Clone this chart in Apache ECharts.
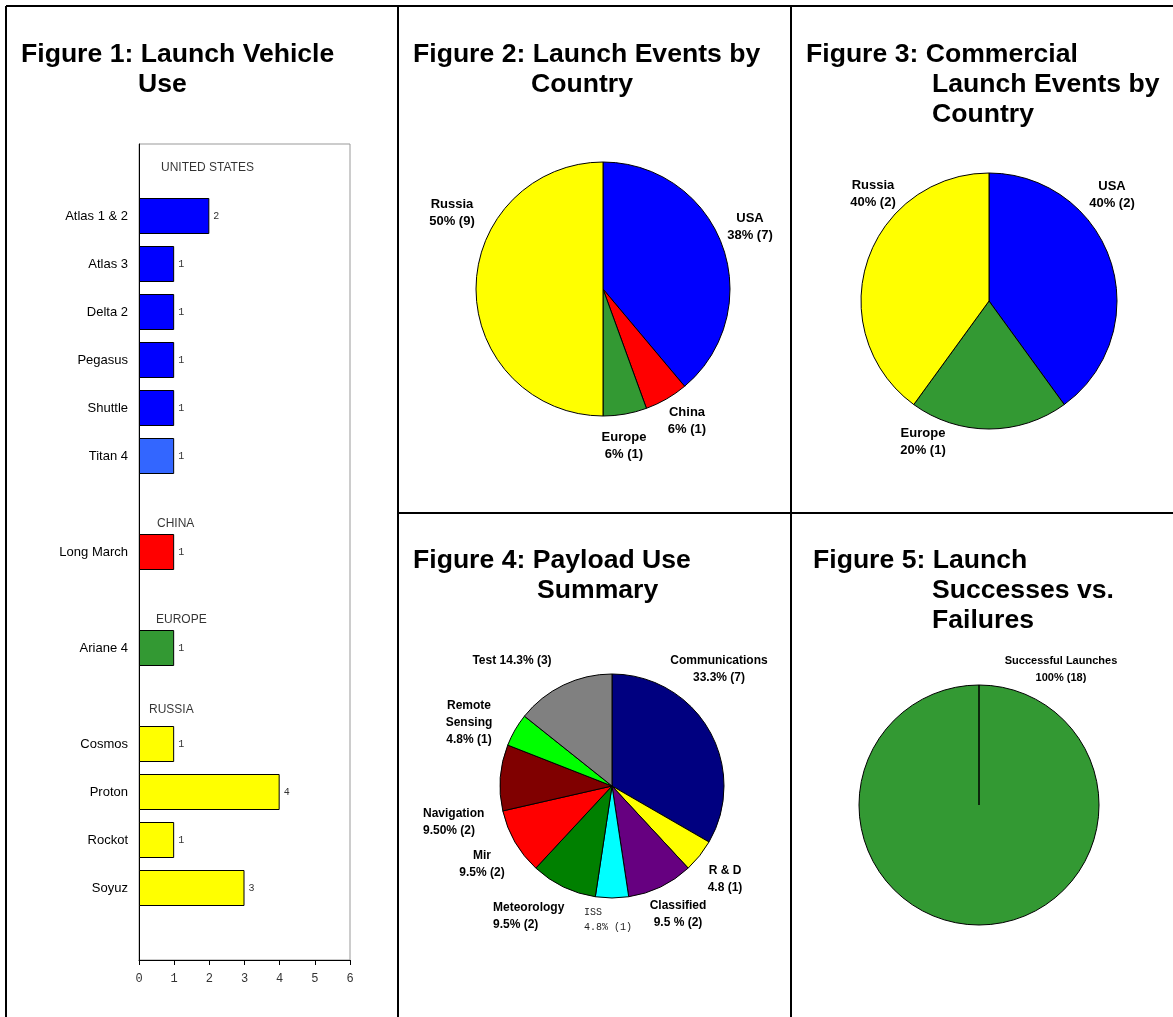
<!DOCTYPE html>
<html>
<head>
<meta charset="utf-8">
<title>Launch summary</title>
<script src="https://cdn.jsdelivr.net/npm/echarts@6/dist/echarts.min.js"></script>
<style>
  html, body { margin: 0; padding: 0; background: #fff; }
  #main { width: 1173px; height: 1017px; }
</style>
</head>
<body>
<div id="main"></div>
<script>
// Figure 1 - launch vehicles, grouped by country
var vehicleGroups = ['UNITED STATES', 'CHINA', 'EUROPE', 'RUSSIA'];
var usVehicles = ['Atlas 1 & 2', 'Atlas 3', 'Delta 2', 'Pegasus', 'Shuttle', 'Titan 4'];
var usCounts = [2, 1, 1, 1, 1, 1];
var chinaVehicles = ['Long March'];
var chinaCounts = [1];
var europeVehicles = ['Ariane 4'];
var europeCounts = [1];
var russiaVehicles = ['Cosmos', 'Proton', 'Rockot', 'Soyuz'];
var russiaCounts = [1, 4, 1, 3];
var vehicleTicks = [0, 1, 2, 3, 4, 5, 6];

// Figure 2 - launch events by country
var launchCountries = ['USA', 'China', 'Europe', 'Russia'];
var launchEvents = [7, 1, 1, 9];
var launchPct = ['38%', '6%', '6%', '50%'];

// Figure 3 - commercial launch events by country
var commCountries = ['USA', 'Europe', 'Russia'];
var commEvents = [2, 1, 2];
var commPct = ['40%', '20%', '40%'];

// Figure 4 - payload use
var payloadUses = ['Communications', 'R & D', 'Classified', 'ISS', 'Meteorology', 'Mir', 'Navigation', 'Remote Sensing', 'Test'];
var payloadCounts = [7, 1, 2, 1, 2, 2, 2, 1, 3];
var payloadPct = ['33.3%', '4.8', '9.5 %', '4.8%', '9.5%', '9.5%', '9.50%', '4.8%', '14.3%'];

// Figure 5 - successes vs failures
var outcomes = ['Successful Launches', 'Failures'];
var outcomeCounts = [18, 0];
var outcomePct = ['100%', '0%'];

var groupColors = {'UNITED STATES': '#0000ff', 'CHINA': '#ff0000', 'EUROPE': '#339933', 'RUSSIA': '#ffff00'};
var launchColors = ['#0000ff', '#ff0000', '#339933', '#ffff00'];
var commColors = ['#0000ff', '#339933', '#ffff00'];
var payloadColors = ['#000080', '#ffff00', '#660080', '#00ffff', '#008000', '#ff0000', '#800000', '#00ff00', '#808080'];
var outcomeColors = ['#339933', '#339933'];

var FONT = '"Liberation Sans", Arial, sans-serif';
var MONO = '"Liberation Mono", "Courier New", monospace';

function buildVehicleData() {
    var lists = [[usVehicles, usCounts], [chinaVehicles, chinaCounts], [europeVehicles, europeCounts], [russiaVehicles, russiaCounts]];
    var cats = [], bars = [];
    for (var g = 0; g < vehicleGroups.length; g++) {
        cats.push(vehicleGroups[g]);
        bars.push('-');
        var names = lists[g][0], counts = lists[g][1];
        for (var i = 0; i < names.length; i++) {
            var col = groupColors[vehicleGroups[g]];
            if (names[i] == 'Titan 4') col = '#3366ff';
            cats.push(names[i]);
            bars.push({value: counts[i], itemStyle: {color: col}});
        }
    }
    cats.push(' ');
    bars.push('-');
    return {cats: cats, bars: bars};
}

function pieData(names, values, colors, pct, fmt) {
    var out = [];
    for (var i = 0; i < names.length; i++) {
        out.push({
            name: names[i],
            value: values[i],
            pct: pct[i],
            itemStyle: {color: colors[i]},
            label: fmt ? fmt(names[i], i) : {}
        });
    }
    return out;
}

function spotLayout(cx, cy, spots) {
    return function (p) {
        var s = spots[p.dataIndex];
        return {x: cx + s[0], y: cy + s[1], align: s[2] || 'center', verticalAlign: 'middle'};
    };
}

function pieSeries(center, r, data, fontSize, lh, spots, sep) {
    return {
        type: 'pie',
        center: center,
        radius: r,
        startAngle: 90,
        clockwise: true,
        silent: true,
        avoidLabelOverlap: false,
        data: data,
        itemStyle: {borderColor: '#000', borderWidth: 1},
        label: {
            show: true,
            position: 'outside',
            fontFamily: FONT,
            fontWeight: 'bold',
            fontSize: fontSize,
            lineHeight: lh,
            color: '#000',
            formatter: function (p) {
                var s = sep ? sep(p.name) : '\n';
                var n = p.name;
                if (n == 'Remote Sensing') n = 'Remote\nSensing';
                return n + s + p.data.pct + ' (' + p.value + ')';
            }
        },
        labelLine: {show: false},
        labelLayout: spotLayout(center[0], center[1], spots),
        emphasis: {disabled: true}
    };
}

function titleLine(text, left, top) {
    return {
        text: text, left: left, top: top, padding: 0,
        textStyle: {fontFamily: FONT, fontWeight: 'bold', fontSize: 26.6, lineHeight: 30, color: '#000'}
    };
}

function frameLine(x1, y1, x2, y2) {
    return {type: 'line', shape: {x1: x1, y1: y1, x2: x2, y2: y2}, style: {stroke: '#000', lineWidth: 2}, silent: true};
}

function draw() {
    var chart = echarts.init(document.getElementById('main'));
    var vd = buildVehicleData();
    var headerOffsets = {'UNITED STATES': [17, 0], 'CHINA': [13, 20], 'EUROPE': [12, 20], 'RUSSIA': [5, 14]};

    var option = {
        animation: false,
        backgroundColor: '#fff',
        title: [
            titleLine('Figure 1: Launch Vehicle', 21, 40),
            titleLine('Use', 138, 70),
            titleLine('Figure 2: Launch Events by', 413, 40),
            titleLine('Country', 531, 70),
            titleLine('Figure 3: Commercial', 806, 40),
            titleLine('Launch Events by\nCountry', 932, 70),
            titleLine('Figure 4: Payload Use', 413, 546),
            titleLine('Summary', 537, 576),
            titleLine('Figure 5: Launch', 813, 546),
            titleLine('Successes vs.\nFailures', 932, 576)
        ],
        graphic: [
            frameLine(6, 6, 1173, 6),
            frameLine(6, 6, 6, 1017),
            frameLine(398, 6, 398, 1017),
            frameLine(791, 6, 791, 1017),
            frameLine(398, 513, 1173, 513)
        ],
        grid: [{left: 139, top: 144, width: 211, height: 816, show: true, borderColor: '#999', borderWidth: 1}],
        xAxis: [{
            type: 'value', min: vehicleTicks[0], max: vehicleTicks[vehicleTicks.length - 1], interval: 1,
            splitLine: {show: false},
            axisLine: {show: true, lineStyle: {color: '#000', width: 1}},
            axisTick: {show: true, length: 5, lineStyle: {color: '#000'}},
            axisLabel: {fontFamily: MONO, fontSize: 12, color: '#333', margin: 13}
        }],
        yAxis: [{
            type: 'category', inverse: true, data: vd.cats,
            axisLine: {show: true, lineStyle: {color: '#000', width: 1}},
            axisTick: {show: false},
            axisLabel: {
                fontFamily: FONT, fontSize: 13, color: '#000', margin: 11, interval: 0,
                formatter: function (v) { return groupColors[v] ? '' : v; }
            }
        }],
        series: [
            {
                type: 'bar', data: vd.bars, barWidth: 36, silent: true,
                itemStyle: {borderColor: '#000', borderWidth: 1},
                label: {show: true, position: 'right', distance: 4, fontFamily: MONO, fontSize: 10, color: '#333'}
            },
            {
                type: 'scatter', symbolSize: 0, silent: true,
                data: vehicleGroups.map(function (g) { return [0, g]; }),
                label: {
                    show: true, position: 'right', fontFamily: FONT, fontSize: 12, color: '#000',
                    formatter: function (p) { return p.value[1]; }
                },
                labelLayout: function (p) {
                    var o = headerOffsets[vehicleGroups[p.dataIndex]];
                    return {dx: o[0], dy: o[1]};
                }
            },
            pieSeries([603, 289], 127, pieData(launchCountries, launchEvents, launchColors, launchPct),
                13, 17, [[147, -62], [84, 132], [21, 157], [-151, -76]]),
            pieSeries([989, 301], 128, pieData(commCountries, commEvents, commColors, commPct),
                13, 17, [[123, -106], [-66, 141], [-116, -107]]),
            pieSeries([612, 786], 112, pieData(payloadUses, payloadCounts, payloadColors, payloadPct, function (n) {
                    if (n == 'ISS') return {fontFamily: MONO, fontWeight: 'normal', fontSize: 10, lineHeight: 15, color: '#222'};
                    return {};
                }),
                12, 17,
                [[107, -117], [113, 93], [66, 128], [-28, 134, 'left'], [-119, 130, 'left'], [-130, 78],
                 [-189, 36, 'left'], [-143, -63], [-100, -125]],
                function (n) { return n == 'Test' ? ' ' : '\n'; }),
            pieSeries([979, 805], 120, pieData(outcomes, outcomeCounts, outcomeColors, outcomePct, function (n, i) {
                    return outcomeCounts[i] > 0 ? {} : {show: false};
                }),
                11, 17, [[82, -136], [0, 0]])
        ]
    };
    chart.setOption(option);
}

window.onload = function () {
    draw();
};
</script>
</body>
</html>
